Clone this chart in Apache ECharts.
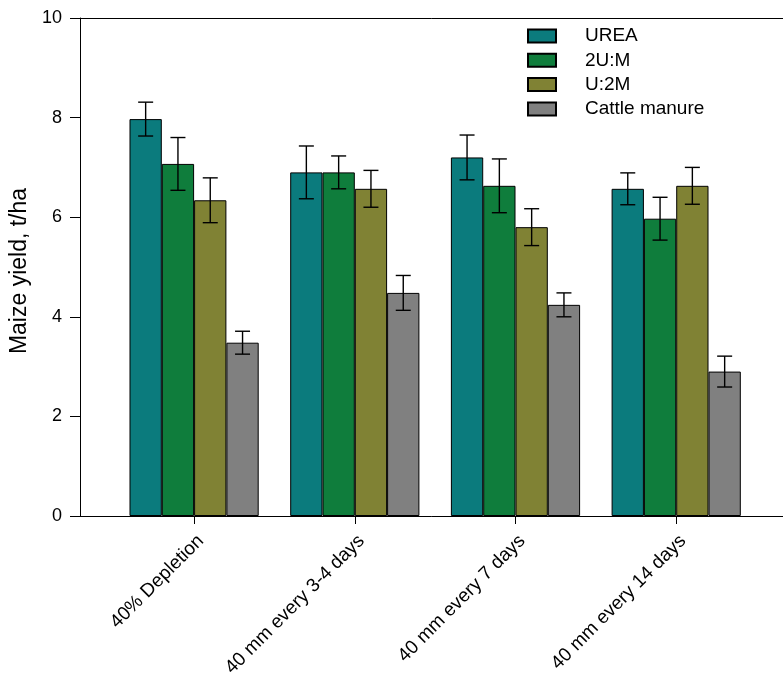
<!DOCTYPE html>
<html>
<head>
<meta charset="utf-8">
<script src="https://cdn.jsdelivr.net/npm/echarts@6/dist/echarts.min.js"></script>
<style>html,body{margin:0;padding:0;background:#fff}#c{width:783px;height:677px}</style>
</head>
<body>
<div id="c"></div>
<script>
const categories = ['40% Depletion', '40 mm every 3-4 days', '40 mm every 7 days', '40 mm every 14 days'];
const seriesNames = ['UREA', '2U:M', 'U:2M', 'Cattle manure'];
const ureaVals = [7.97, 6.90, 7.20, 6.57];
const ureaErr = [0.34, 0.53, 0.45, 0.32];
const u2mVals = [7.07, 6.90, 6.63, 5.97];
const u2mErr = [0.53, 0.33, 0.54, 0.43];
const um2Vals = [6.34, 6.57, 5.80, 6.63];
const um2Err = [0.45, 0.37, 0.37, 0.37];
const cattleVals = [3.48, 4.48, 4.24, 2.90];
const cattleErr = [0.23, 0.35, 0.24, 0.31];
const yTicks = [0, 2, 4, 6, 8, 10];

const colors = ['#0b7b7d', '#0f7d3c', '#808234', '#808080'];
const allVals = [ureaVals, u2mVals, um2Vals, cattleVals];
const allErr = [ureaErr, u2mErr, um2Err, cattleErr];
const BAR_W = 32.3;
const FONT = 'Liberation Sans, Arial, sans-serif';
const tickPos = categories.map((c, k) => k + 1);
const labelPos = tickPos.map(p => p + 0.042);

const series = [];
allVals.forEach((vals, i) => {
  series.push({
    name: seriesNames[i], type: 'bar', xAxisIndex: 0,
    barWidth: BAR_W, barGap: '0%',
    itemStyle: { color: colors[i], borderColor: '#000', borderWidth: 1 },
    data: vals.map((v, k) => [k + 1, v]),
    z: 2
  });
});
allVals.forEach((vals, i) => {
  series.push({
    name: 'err' + i, type: 'custom', xAxisIndex: 0, z: 5,
    data: vals.map((v, k) => [k + 1, v, allErr[i][k]]),
    renderItem: function (params, api) {
      const x = api.value(0), y = api.value(1), e = api.value(2);
      const off = (i - 1.5) * BAR_W;
      const t = api.coord([x, y + e]);
      const b = api.coord([x, y - e]);
      const cx = t[0] + off, hw = 7.5;
      const st = { stroke: '#000', lineWidth: 1.4 };
      return {
        type: 'group',
        children: [
          { type: 'line', shape: { x1: cx, y1: t[1], x2: cx, y2: b[1] }, style: st },
          { type: 'line', shape: { x1: cx - hw, y1: t[1], x2: cx + hw, y2: t[1] }, style: st },
          { type: 'line', shape: { x1: cx - hw, y1: b[1], x2: cx + hw, y2: b[1] }, style: st }
        ]
      };
    }
  });
});

const chart = echarts.init(document.getElementById('c'), null, { renderer: 'canvas' });
chart.setOption({
  animation: false,
  backgroundColor: '#fff',
  textStyle: { fontFamily: FONT },
  grid: { left: 80, top: 18, width: 708.7, bottom: 161, containLabel: false, outerBoundsMode: 'none' },
  legend: {
    data: seriesNames, orient: 'vertical', left: 522, top: 21.5,
    itemWidth: 28, itemHeight: 13, itemGap: 5.3, icon: 'rect',
    textStyle: { fontSize: 19, color: '#000', fontFamily: FONT, padding: [0, 0, 0, 24] }
  },
  xAxis: [{
    type: 'value', min: 0.29, max: 4.7, position: 'bottom',
    axisLine: { show: true, onZero: false, lineStyle: { color: '#000', width: 1 } },
    axisTick: { show: true, customValues: tickPos, length: 8, inside: false, lineStyle: { color: '#000' } },
    axisLabel: {
      customValues: labelPos, rotate: 45, fontSize: 19, color: '#000', margin: 22, fontFamily: FONT,
      formatter: v => categories[Math.round(v) - 1] || ''
    },
    splitLine: { show: false }
  }, {
    type: 'value', min: 0.29, max: 4.7, position: 'top',
    axisLine: { show: true, onZero: false, lineStyle: { color: '#000', width: 1 } },
    axisTick: { show: false }, axisLabel: { show: false }, splitLine: { show: false }
  }],
  yAxis: {
    type: 'value', min: yTicks[0], max: yTicks[yTicks.length - 1], interval: 2,
    name: 'Maize yield, t/ha', nameLocation: 'middle', nameGap: 48,
    nameTextStyle: { fontSize: 23, color: '#000', fontFamily: FONT, padding: [0, 8, 0, 0] },
    axisLine: { show: true, lineStyle: { color: '#000', width: 1 } },
    axisTick: { show: true, length: 10, inside: false, lineStyle: { color: '#000' } },
    axisLabel: { fontSize: 18, color: '#000', margin: 18, fontFamily: FONT },
    splitLine: { show: false }
  },
  series: series
});
</script>
</body>
</html>
